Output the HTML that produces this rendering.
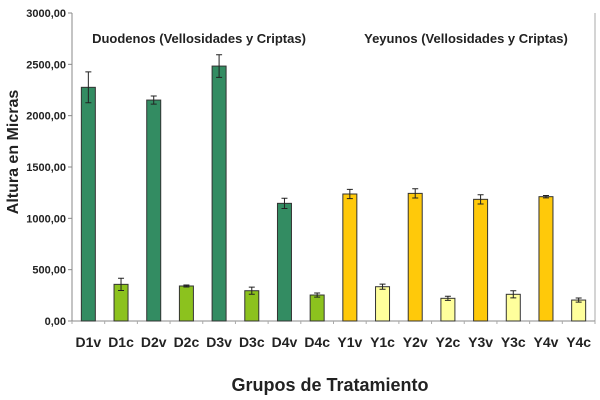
<!DOCTYPE html>
<html><head><meta charset="utf-8"><style>
body{margin:0;background:#fff;}
svg{display:block;font-family:"Liberation Sans",Arial,sans-serif;font-weight:bold;}
</style></head><body>
<svg id="chart" width="600" height="400">
<g id="plot"></g>
</svg>
<script>
const categories=["D1v","D1c","D2v","D2c","D3v","D3c","D4v","D4c","Y1v","Y1c","Y2v","Y2c","Y3v","Y3c","Y4v","Y4c"];
const values=[2276,357,2152,341,2483,295,1146,253,1237,334,1243,221,1185,260,1211,204];
const errors=[150,60,40,10,110,35,50,20,45,25,45,20,45,35,12,20];
const groups=["dv","dc","dv","dc","dv","dc","dv","dc","yv","yc","yv","yc","yv","yc","yv","yc"];
const yTicks=[0,500,1000,1500,2000,2500,3000];
const yTickLabels=["0,00","500,00","1000,00","1500,00","2000,00","2500,00","3000,00"];
const colors={dv:"#338c62",dc:"#8cc21e",yv:"#ffc90a",yc:"#ffff9c"};
const NS="http://www.w3.org/2000/svg";
const g=document.getElementById('plot');
const L=72,R=595,T=13,B=321,yMax=3000;
const y=v=>B-(v/yMax)*(B-T);
const step=(R-L)/categories.length;
const x=i=>L+step*(i+0.5);
function mk(t,a,p){const e=document.createElementNS(NS,t);for(const k in a)e.setAttribute(k,a[k]);(p||g).appendChild(e);return e;}
let e;
e=mk('line',{x1:L,y1:T,x2:L,y2:B,stroke:"#888","stroke-width":1});


e=mk('line',{x1:R,y1:T,x2:R,y2:B,stroke:"#aaa","stroke-width":1});


e=mk('line',{x1:L,y1:B,x2:R,y2:B,stroke:"#888","stroke-width":1});


yTicks.forEach((v,i)=>{
  e=mk('line',{x1:L-4,y1:y(v),x2:L,y2:y(v),stroke:"#888"});
  
  
  e=mk('text',{x:L-6,y:y(v)+4,"text-anchor":"end","font-size":"11","fill":"#222"});
  e.textContent=yTickLabels[i];
  
  
});
for(let i=0;i<=categories.length;i++){
  e=mk('line',{x1:L+step*i,y1:B,x2:L+step*i,y2:B+3,stroke:"#aaa"});
  
  
}
categories.forEach((c,i)=>{
  const bw=14,cx=x(i),top=y(values[i]);
  e=mk('rect',{x:cx-bw/2,y:top,width:bw,height:B-top,fill:colors[groups[i]],stroke:"#333","stroke-width":1});
  
  
  const e1=y(values[i]+errors[i]),e2=y(values[i]-errors[i]);
  e=mk('path',{d:`M${cx},${e1}V${e2}M${cx-3},${e1}H${cx+3}M${cx-3},${e2}H${cx+3}`,stroke:"#222","stroke-width":1,fill:"none"});
  
  
  e=mk('text',{x:cx,y:347,"text-anchor":"middle","font-size":"14","fill":"#222"});
  e.textContent=c;
  
  
});
</script>
<svg width="600" height="400" style="position:absolute;left:0;top:0;font-family:'Liberation Sans',Arial,sans-serif;font-weight:bold">
<text x="199" y="43" text-anchor="middle" font-size="13" fill="#222">Duodenos (Vellosidades y Criptas)</text>
<text x="466" y="43" text-anchor="middle" font-size="13" fill="#222">Yeyunos (Vellosidades y Criptas)</text>
<text transform="translate(18,152) rotate(-90)" text-anchor="middle" font-size="16" fill="#222">Altura en Micras</text>
<text x="330" y="391" text-anchor="middle" font-size="18" fill="#222">Grupos de Tratamiento</text>
</svg>
</body></html>
